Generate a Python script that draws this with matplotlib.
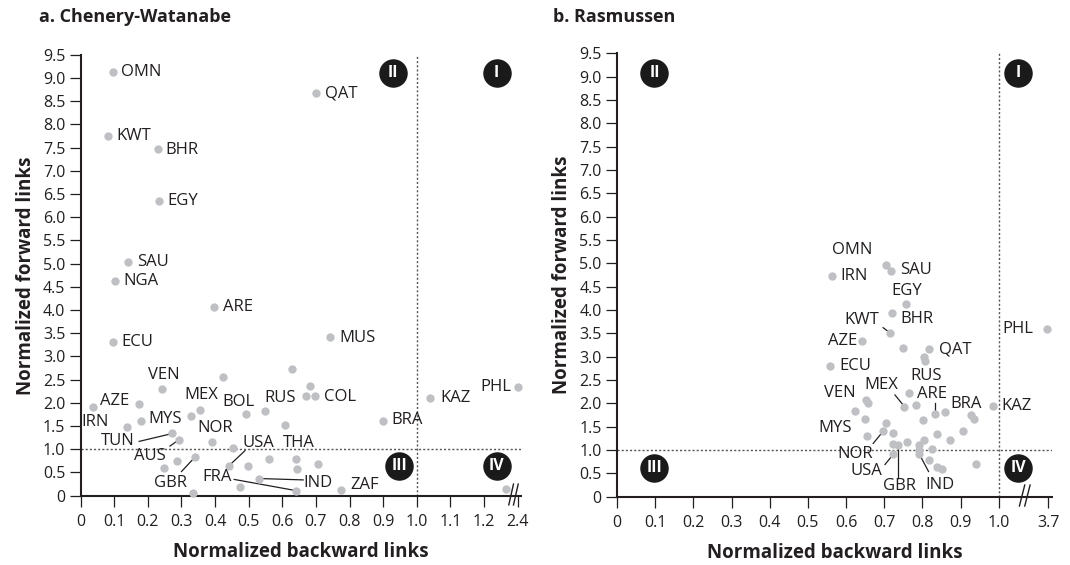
import numpy as np
import matplotlib.pyplot as plt

plt.rcParams['font.family'] = ['Open Sans', 'DejaVu Sans']

# ---------------- panel a: Chenery-Watanabe ----------------
cw_names = ["OMN", "QAT", "KWT", "BHR", "EGY", "SAU", "NGA", "ARE", "MUS", "ECU",
            "VEN", "RUS", "COL", "KAZ", "PHL", "AZE", "IRN", "MEX", "BOL", "BRA",
            "MYS", "TUN", "AUS", "NOR", "GBR", "USA", "IND", "ZAF", "FRA"]
cw_backward = [0.097, 0.699, 0.080, 0.229, 0.232, 0.142, 0.102, 0.398, 0.742, 0.095,
               0.243, 0.670, 0.697, 1.040, 2.40, 0.173, 0.037, 0.356, 0.493, 0.901,
               0.180, 0.273, 0.293, 0.392, 0.340, 0.442, 0.530, 0.774, 0.640]
cw_forward = [9.12, 8.67, 7.75, 7.47, 6.35, 5.03, 4.63, 4.06, 3.41, 3.31,
              2.29, 2.14, 2.14, 2.11, 2.35, 1.98, 1.92, 1.85, 1.75, 1.62,
              1.61, 1.34, 1.21, 1.16, 0.83, 0.65, 0.37, 0.13, 0.11]
cw_other_backward = [0.628, 0.424, 0.682, 0.548, 0.327, 0.608, 0.139, 0.452, 0.560,
                     0.640, 0.288, 0.705, 0.499, 0.249, 0.643, 0.474, 0.333, 1.60]
cw_other_forward = [2.72, 2.56, 2.37, 1.82, 1.72, 1.52, 1.49, 1.02, 0.79,
                    0.79, 0.75, 0.68, 0.65, 0.59, 0.57, 0.19, 0.05, 0.14]

# ---------------- panel b: Rasmussen ----------------
rs_names = ["OMN", "SAU", "IRN", "EGY", "BHR", "KWT", "AZE", "QAT", "ECU", "RUS",
            "VEN", "MEX", "ARE", "BRA", "KAZ", "PHL", "MYS", "NOR", "USA", "GBR", "IND"]
rs_backward = [0.704, 0.717, 0.562, 0.756, 0.721, 0.715, 0.642, 0.818, 0.559, 0.764,
               0.652, 0.753, 0.834, 0.927, 0.985, 3.62, 0.649, 0.698, 0.724, 0.737, 0.792]
rs_forward = [4.96, 4.84, 4.73, 4.13, 3.94, 3.51, 3.34, 3.16, 2.79, 2.22,
              2.07, 1.93, 1.77, 1.75, 1.95, 3.60, 1.66, 1.41, 0.91, 1.11, 0.91]
rs_other_backward = [0.748, 0.804, 0.808, 0.658, 0.624, 0.782, 0.860, 0.936, 0.705,
                     0.722, 0.654, 0.724, 0.759, 0.801, 0.838, 0.873, 0.803, 0.790,
                     0.792, 0.824, 0.818, 0.838, 0.851, 0.941, 0.905]
rs_other_forward = [3.19, 3.00, 2.91, 2.00, 1.84, 1.96, 1.81, 1.66, 1.57,
                    1.37, 1.29, 1.13, 1.18, 1.64, 1.34, 1.21, 1.21, 1.11,
                    1.00, 1.02, 0.79, 0.63, 0.59, 0.69, 1.41]

y_ticks = np.arange(0, 9.51, 0.5)
cw_xticks = [0, 0.1, 0.2, 0.3, 0.4, 0.5, 0.6, 0.7, 0.8, 0.9, 1.0, 1.1, 1.2, 2.4]
rs_xticks = [0, 0.1, 0.2, 0.3, 0.4, 0.5, 0.6, 0.7, 0.8, 0.9, 1.0, 3.7]

# label placement (data coords, centre of text) and leader line starts
cw_label_pos = {
    "OMN": (0.181, 9.12), "QAT": (0.775, 8.67), "KWT": (0.159, 7.75), "BHR": (0.302, 7.45),
    "EGY": (0.304, 6.34), "SAU": (0.216, 5.03), "NGA": (0.179, 4.63), "ARE": (0.469, 4.06),
    "MUS": (0.823, 3.39), "ECU": (0.168, 3.31), "VEN": (0.246, 2.60), "RUS": (0.593, 2.10),
    "COL": (0.772, 2.13), "KAZ": (1.114, 2.10), "PHL": (1.236, 2.34), "AZE": (0.102, 2.05),
    "IRN": (0.043, 1.58), "MEX": (0.360, 2.17), "BOL": (0.469, 2.01), "BRA": (0.970, 1.63),
    "MYS": (0.251, 1.65), "TUN": (0.109, 1.18), "AUS": (0.206, 0.86), "NOR": (0.400, 1.45),
    "GBR": (0.266, 0.27), "USA": (0.529, 1.13), "IND": (0.707, 0.28), "ZAF": (0.846, 0.23),
    "FRA": (0.405, 0.40), "THA": (0.648, 1.13),
}
cw_leaders = {"TUN": (0.174, 1.17), "AUS": (0.266, 1.07), "GBR": (0.300, 0.52),
              "USA": (0.489, 0.97), "FRA": (0.457, 0.35), "IND": (0.662, 0.34)}

rs_label_pos = {
    "OMN": (0.615, 5.29), "SAU": (0.783, 4.85), "IRN": (0.620, 4.72), "EGY": (0.758, 4.41),
    "KWT": (0.641, 3.79), "BHR": (0.786, 3.80), "AZE": (0.591, 3.34), "QAT": (0.885, 3.16),
    "ECU": (0.623, 2.79), "RUS": (0.809, 2.59), "MEX": (0.693, 2.39), "ARE": (0.826, 2.20),
    "VEN": (0.584, 2.22), "BRA": (0.915, 1.99), "KAZ": (1.047, 1.95), "PHL": (1.055, 3.59),
    "MYS": (0.571, 1.47), "NOR": (0.625, 0.91), "USA": (0.652, 0.54), "GBR": (0.741, 0.23),
    "IND": (0.846, 0.25),
}
rs_leaders = {"KWT": (0.697, 3.62), "MEX": (0.728, 2.18), "ARE": (0.834, 2.01),
              "NOR": (0.671, 1.14), "USA": (0.702, 0.69), "GBR": (0.737, 0.39),
              "IND": (0.816, 0.54)}

DOT = "#bfc0c4"
INK = "#231f20"


def broken(lo, hi, top):
    # linear up to lo, then squeezed so that hi lands at top
    k = (top - lo) / (hi - lo)

    def fwd(v):
        v = np.asarray(v, dtype=float)
        return np.where(v <= lo, v, lo + (v - lo) * k)

    def inv(p):
        p = np.asarray(p, dtype=float)
        return np.where(p <= lo, p, lo + (p - lo) / k)
    return fwd, inv


def draw_panel(ax, names, bx, fy, ox, oy, lab, leaders, xticks, brk, xmax,
               quad, breakpos):
    fwd, inv = broken(*brk)
    ax.set_xscale('function', functions=(fwd, inv))
    ax.set_xlim(0, inv(xmax))
    ax.set_ylim(0, 9.5)

    pts = dict(zip(names, zip(bx, fy)))
    for n, (x0, y0) in leaders.items():
        x1, y1 = pts[n]
        ax.plot([x0, x1], [y0, y1], color=INK, lw=0.9, zorder=2, clip_on=False)

    ax.scatter(ox, oy, s=36, color=DOT, zorder=3, linewidths=0, clip_on=False)
    ax.scatter(bx, fy, s=36, color=DOT, zorder=3, linewidths=0, clip_on=False)

    for n, (x, y) in lab.items():
        ax.text(x, y, n, fontsize=12, color=INK, ha='center', va='center', zorder=4)

    ax.axvline(1.0, color="#555555", lw=1, ls=(0, (1.5, 1.5)), zorder=1)
    ax.axhline(1.0, color="#555555", lw=1, ls=(0, (1.5, 1.5)), zorder=1)

    for (x, y, t) in quad:
        ax.plot([x], [y], 'o', ms=19.5, color="#1a1a1a", zorder=5)
        ax.text(x, y, t, color='white', fontsize=11.5, fontweight='bold',
                ha='center', va='center', zorder=6)

    # axis break mark "//" on the bottom spine
    for dx in (-0.007, 0.007):
        p = breakpos + dx
        ax.plot(inv([p - 0.007, p + 0.007]), [-0.2, 0.25], color=INK, lw=1.0,
                clip_on=False, zorder=6)

    ax.set_xticks(xticks)
    ax.set_xticklabels(["0" if t == 0 else f"{t:.1f}" for t in xticks])
    ax.set_yticks(y_ticks)
    ax.set_yticklabels(["0" if t == 0 else f"{t:.1f}" for t in y_ticks])
    ax.tick_params(axis='both', direction='out', length=8, width=0.9,
                   color=INK, labelcolor=INK, labelsize=11.5)
    ax.tick_params(axis='x', pad=5)
    ax.tick_params(axis='y', pad=3)
    ax.xaxis.set_minor_locator(plt.NullLocator())
    for s in ('top', 'right'):
        ax.spines[s].set_visible(False)
    for s in ('left', 'bottom'):
        ax.spines[s].set_linewidth(1.5)
        ax.spines[s].set_color(INK)
    ax.set_xlabel("Normalized backward links", fontsize=13.5, fontweight='bold',
                  color=INK, labelpad=9)
    ax.set_ylabel("Normalized forward links", fontsize=13.5, fontweight='bold',
                  color=INK, labelpad=5)


fig = plt.figure(figsize=(10.7, 5.65), dpi=100)
ax1 = fig.add_axes([0.0754, 0.1227, 0.4114, 0.7802])
ax2 = fig.add_axes([0.5766, 0.1209, 0.4068, 0.785])

draw_panel(ax1, cw_names, cw_backward, cw_forward, cw_other_backward, cw_other_forward,
           cw_label_pos, cw_leaders, cw_xticks, (1.25, 2.4, 1.30), 1.31,
           [(0.928, 9.10, "II"), (1.238, 9.10, "I"),
            (0.948, 0.64, "III"), (1.238, 0.64, "IV")], 1.288)
draw_panel(ax2, rs_names, rs_backward, rs_forward, rs_other_backward, rs_other_forward,
           rs_label_pos, rs_leaders, rs_xticks, (1.05, 3.7, 1.13), 1.14,
           [(0.098, 9.07, "II"), (1.075, 9.07, "I"),
            (0.098, 0.61, "III"), (1.075, 0.61, "IV")], 1.068)

fig.text(0.036, 0.97, "a. Chenery-Watanabe", fontsize=13, fontweight='bold',
         color=INK, va='center')
fig.text(0.517, 0.97, "b. Rasmussen", fontsize=13, fontweight='bold',
         color=INK, va='center')

fig.savefig("out.png", dpi=100)
